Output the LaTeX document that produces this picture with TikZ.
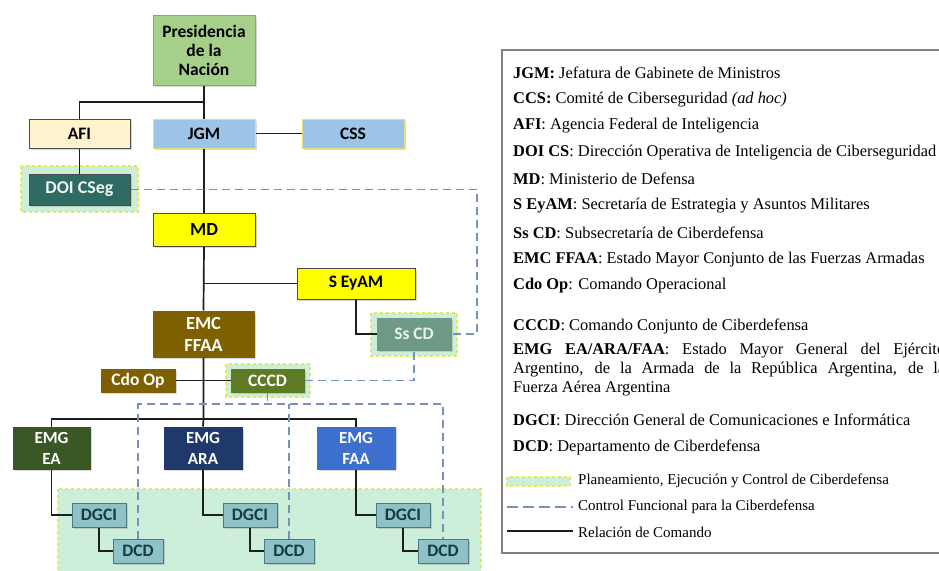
\documentclass[tikz,border=0pt]{standalone}
\usepackage{fontspec}
\setmainfont{Liberation Serif}
\newfontfamily\boxfont{Carlito}
\usetikzlibrary{calc,shadows}
\definecolor{cPres}{HTML}{A6CF8A}
\definecolor{cPresEdge}{HTML}{7FAE5F}
\definecolor{cAFI}{HTML}{FFF2CC}
\definecolor{cJGM}{HTML}{9DC3E6}
\definecolor{cJGMEdge}{HTML}{E3DE78}
\definecolor{cDOI}{HTML}{2F6B63}
\definecolor{cHalo}{HTML}{CDEFDA}
\definecolor{cHaloEdge}{HTML}{E4EA55}
\definecolor{cYel}{HTML}{FFFF00}
\definecolor{cSsCD}{HTML}{6E9A85}
\definecolor{cBrown}{HTML}{7F6000}
\definecolor{cCCCD}{HTML}{5E7A24}
\definecolor{cEA}{HTML}{395826}
\definecolor{cARA}{HTML}{1F3A6A}
\definecolor{cFAA}{HTML}{3D6FCF}
\definecolor{cDG}{HTML}{8FC1C8}
\definecolor{cDGEdge}{HTML}{4A7A80}
\definecolor{cDGText}{HTML}{163C40}
\definecolor{cRegion}{HTML}{C8F0DA}
\definecolor{cDash}{HTML}{7790BC}
\definecolor{cLine}{HTML}{1E1E1E}
\definecolor{cLegEdge}{HTML}{808080}
\begin{document}
\begin{tikzpicture}[x=1pt,y=-1pt,
  orgbox/.style={draw=#1, line width=1pt, inner sep=0pt, align=center,
    font=\boxfont\bfseries\fontsize{17.5}{19}\selectfont, text=black,
    drop shadow={shadow xshift=1.5pt, shadow yshift=-1.5pt, opacity=0.3}},
  orgbox/.default={cLine!80},
  halo/.style={fill=cHalo, draw=cHaloEdge, dashed, line width=1.8pt},
  cmd/.style={draw=cLine, line width=1.7pt},
  func/.style={draw=cDash, line width=1.5pt, dash pattern=on 8pt off 5pt},
  leg/.style={anchor=west, inner sep=0pt, font=\fontsize{16.4}{19}\selectfont},
  legs/.style={anchor=west, inner sep=0pt, font=\fontsize{15}{17}\selectfont},
  dgbox/.style={orgbox=cDGEdge, fill=cDG, text=cDGText, minimum width=54, minimum height=24}
]
\clip (0,0) rectangle (939,570);
\fill[white] (0,0) rectangle (939,570);

% shaded region and halos
\path[halo] (58,489) rectangle (481,578);
\path[halo] (21,166) rectangle (138,212);
\path[halo] (371,313) rectangle (457,356);
\path[halo] (226,364) rectangle (310,397);

% nodes
\node[orgbox=cPresEdge, fill=cPres, minimum width=102, minimum height=70] (pres) at (204,50) {Presidencia\\de la\\Nación};
\node[orgbox, fill=cAFI, minimum width=101, minimum height=29] (afi) at (79.5,133.5) {AFI};
\node[orgbox=cJGMEdge, fill=cJGM, minimum width=102, minimum height=29] (jgm) at (204,133.5) {JGM};
\node[orgbox=cJGMEdge, fill=cJGM, minimum width=102, minimum height=29] (css) at (353,133.5) {CSS};
\node[orgbox, fill=cDOI, text=white!92!cDOI, minimum width=101, minimum height=31,
  font=\boxfont\bfseries\fontsize{18}{20}\selectfont] (doi) at (79.5,189.5) {DOI CSeg};
\node[orgbox, fill=cYel, minimum width=102, minimum height=33] (md) at (204,229.5) {\fontsize{18.5}{20}\selectfont MD};
\node[orgbox, fill=cYel, minimum width=118, minimum height=31] (seyam) at (356,283.5) {S EyAM};
\node[orgbox=cSsCD, fill=cSsCD, text=white!85!cSsCD, minimum width=74, minimum height=32] (sscd) at (414,334) {Ss CD};
\node[orgbox=cBrown, fill=cBrown, text=white, minimum width=101, minimum height=46,
  font=\boxfont\bfseries\fontsize{18.5}{22}\selectfont] (emc) at (203.5,334) {EMC\\FFAA};
\node[orgbox=cBrown, fill=cBrown, text=white, minimum width=74, minimum height=23] (cdoop) at (138,380.5) {Cdo Op};
\node[orgbox=cCCCD, fill=cCCCD, text=white, minimum width=73, minimum height=23] (cccd) at (267.5,380.5) {CCCD};
\node[orgbox=cEA, fill=cEA, text=white, minimum width=77, minimum height=42,
  font=\boxfont\bfseries\fontsize{17}{21}\selectfont] (emgea) at (51.5,448) {EMG\\EA};
\node[orgbox=cARA, fill=cARA, text=white, minimum width=78, minimum height=42,
  font=\boxfont\bfseries\fontsize{17}{21}\selectfont] (emgara) at (203,448) {EMG\\ARA};
\node[orgbox=cFAA, fill=cFAA, text=white, minimum width=78, minimum height=42,
  font=\boxfont\bfseries\fontsize{17}{21}\selectfont] (emgfaa) at (356,448) {EMG\\FAA};
\node[dgbox] (dgci1) at (99,515) {DGCI};
\node[dgbox, minimum width=50] (dcd1) at (138,551) {DCD};
\node[dgbox] (dgci2) at (250,515) {DGCI};
\node[dgbox, minimum width=50] (dcd2) at (289,551) {DCD};
\node[dgbox] (dgci3) at (403,515) {DGCI};
\node[dgbox, minimum width=50] (dcd3) at (443,551) {DCD};

% coordinates
\coordinate (b1) at (204,102);
\coordinate (b2) at (204,283.5);
\coordinate (bar) at (203.5,419);
\coordinate (hb) at (0,404);
\coordinate (doiturn) at (477,189.5);

% command relations
\draw[cmd] (pres.south) -- (jgm.north);
\draw[cmd] (afi.north) |- (b1);
\draw[cmd] (jgm.east) -- (css.west);
\draw[cmd] (afi.south) -- (doi.north);
\draw[cmd] (jgm.south) -- (md.north);
\draw[cmd] (md.south) -- (emc.north);
\draw[cmd] (b2) -- (seyam.west);
\draw[cmd] (seyam.south) |- (sscd.west);
\draw[cmd] (emc.south) -- (bar) -- (emgara.north);
\draw[cmd] (emgea.north) -- (emgea.north |- bar) -- (emgfaa.north |- bar) -- (emgfaa.north);
\draw[cmd] (cdoop.east) -- (cccd.west);
\draw[cmd] (emgea.south) |- (dgci1.west);
\draw[cmd] (emgara.south) |- (dgci2.west);
\draw[cmd] (emgfaa.south) |- (dgci3.west);
\draw[cmd] (dgci1.south) |- (dcd1.west);
\draw[cmd] (dgci2.south) |- (dcd2.west);
\draw[cmd] (dgci3.south) |- (dcd3.west);

% functional control
\draw[func] (doi.east) -- (doiturn) |- (sscd.east);
\draw[func] (cccd.east) -| (sscd.south);
\draw[func] (cccd.south) -- (cccd.south |- hb);
\draw[func] (dcd1.north) -- (dcd1.north |- hb) -- (dcd3.north |- hb) -- (dcd3.north);
\draw[func] (dcd2.north) -- (dcd2.north |- hb);

% legend
\draw[cLegEdge, line width=1.2pt] (502,50) rectangle (975,553);
\node[leg] (l1) at (513,73) {\textbf{JGM:} Jefatura de Gabinete de Ministros};
\node[leg] (l2) at (513,99.5) {\textbf{CCS:} Comité de Ciberseguridad \textit{(ad hoc)}};
\node[leg] (l3) at (513,126) {\textbf{AFI}: Agencia Federal de Inteligencia};
\node[leg] (l4) at (513,152.5) {\textbf{DOI CS}: Dirección Operativa de Inteligencia de Ciberseguridad};
\node[leg] (l5) at (513,179) {\textbf{MD}: Ministerio de Defensa};
\node[leg] (l6) at (513,206) {\textbf{S EyAM}: Secretaría de Estrategia y Asuntos Militares};
\node[leg] (l7) at (513,233) {\textbf{Ss CD}: Subsecretaría de Ciberdefensa};
\node[leg] (l8) at (513,259.5) {\textbf{EMC FFAA}: Estado Mayor Conjunto de las Fuerzas Armadas};
\node[leg] (l9) at (513,286) {\textbf{Cdo Op}: Comando Operacional};
\node[leg] (l10) at (513,326) {\textbf{CCCD}: Comando Conjunto de Ciberdefensa};
\node[leg, anchor=north west, text width=432, align=justify] (l11) at (513,343)
  {\textbf{EMG EA/ARA/FAA}: Estado Mayor General del Ejército\linebreak
   Argentino, de la Armada de la República Argentina, de la\linebreak
   Fuerza Aérea Argentina};
\node[leg] (l12) at (513,420) {\textbf{DGCI}: Dirección General de Comunicaciones e Informática};
\node[leg] (l13) at (513,447) {\textbf{DCD}: Departamento de Ciberdefensa};
\path[halo, line width=1.6pt] (507,477) rectangle (570,486);
\node[legs] (l14) at (578,481) {Planeamiento, Ejecución y Control de Ciberdefensa};
\draw[func, dash pattern=on 11pt off 5pt] (507,507) -- (573,507);
\node[legs] (l15) at (578,507) {Control Funcional para la Ciberdefensa};
\draw[cmd, line width=1.4pt] (507,531) -- (573,531);
\node[legs] (l16) at (578,532) {Relación de Comando};
\end{tikzpicture}
\end{document}
